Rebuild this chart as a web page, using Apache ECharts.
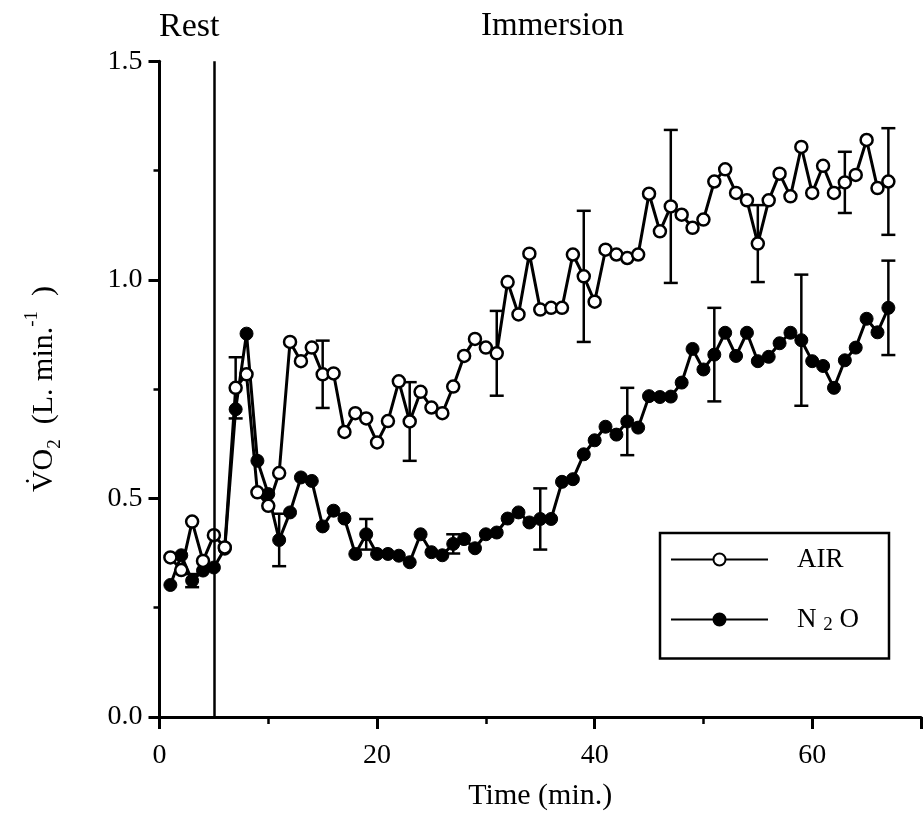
<!DOCTYPE html>
<html>
<head>
<meta charset="utf-8">
<style>
  html, body { margin: 0; padding: 0; background: #fff; }
  #chart { width: 924px; height: 816px; }
</style>
<script src="https://cdn.jsdelivr.net/npm/echarts@6/dist/echarts.min.js"></script>
</head>
<body>
<div id="chart"></div>
<script>
// Time after start of the protocol (min)
const timeMin = [1,2,3,4,5,6,7,8,9,10,11,12,13,14,15,16,17,18,19,20,
  21,22,23,24,25,26,27,28,29,30,31,32,33,34,35,36,37,38,39,40,
  41,42,43,44,45,46,47,48,49,50,51,52,53,54,55,56,57,58,59,60,
  61,62,63,64,65,66,67];

// Oxygen uptake (L/min), breathing air
const airVO2 = [0.365,0.336,0.447,0.357,0.416,0.388,0.753,0.784,0.514,0.483,
  0.558,0.858,0.814,0.845,0.784,0.786,0.652,0.695,0.683,0.628,
  0.677,0.768,0.676,0.744,0.708,0.695,0.756,0.826,0.865,0.845,
  0.832,0.995,0.921,1.060,0.932,0.936,0.936,1.058,1.008,0.950,
  1.069,1.058,1.050,1.058,1.197,1.111,1.168,1.149,1.119,1.138,
  1.225,1.253,1.199,1.182,1.083,1.182,1.243,1.191,1.304,1.199,
  1.261,1.199,1.223,1.240,1.320,1.210,1.225];

// Oxygen uptake (L/min), breathing nitrous oxide
const n2oVO2 = [0.302,0.370,0.312,0.335,0.342,0.385,0.704,0.877,0.586,0.510,
  0.405,0.468,0.548,0.540,0.436,0.472,0.454,0.373,0.418,0.373,
  0.373,0.369,0.354,0.418,0.377,0.370,0.396,0.407,0.386,0.418,
  0.422,0.454,0.468,0.445,0.453,0.453,0.538,0.544,0.601,0.633,
  0.664,0.646,0.676,0.662,0.734,0.732,0.733,0.765,0.842,0.795,
  0.829,0.879,0.826,0.879,0.814,0.824,0.855,0.879,0.862,0.814,
  0.803,0.753,0.816,0.845,0.911,0.880,0.936];

// Standard deviations shown at selected minutes
const airSdMin = [7,15,23,31,39,47,55,63,67];
const airSd    = [0.070,0.077,0.090,0.097,0.150,0.175,0.088,0.070,0.122];
const n2oSdMin = [3,11,19,27,35,43,51,59,67];
const n2oSd    = [0.015,0.060,0.035,0.022,0.070,0.077,0.107,0.150,0.108];

// End of the resting period (min)
const restEnd = 5;

const xTicks = [0, 20, 40, 60];
const yTicks = [0.0, 0.5, 1.0, 1.5];

const serif = 'Liberation Serif';

function pairs(xs, ys) { return xs.map((x, i) => [x, ys[i]]); }
function errRows(mins, sds, vals) {
  return mins.map((m, i) => {
    const v = vals[timeMin.indexOf(m)];
    return [m, v - sds[i], v + sds[i]];
  });
}

function renderErr(params, api) {
  const x = api.value(0);
  const lo = api.coord([x, api.value(1)]);
  const hi = api.coord([x, api.value(2)]);
  const cap = 7;
  const style = { stroke: '#000', lineWidth: 2.5 };
  return {
    type: 'group',
    children: [
      { type: 'line', shape: { x1: lo[0], y1: lo[1], x2: hi[0], y2: hi[1] }, style },
      { type: 'line', shape: { x1: lo[0] - cap, y1: lo[1], x2: lo[0] + cap, y2: lo[1] }, style },
      { type: 'line', shape: { x1: hi[0] - cap, y1: hi[1], x2: hi[0] + cap, y2: hi[1] }, style }
    ]
  };
}

const chart = echarts.init(document.getElementById('chart'), null, { renderer: 'canvas' });

const subRich = {
  sub: { fontSize: 19, fontFamily: serif, verticalAlign: 'bottom', lineHeight: 19 },
  sup: { fontSize: 19, fontFamily: serif, verticalAlign: 'top', lineHeight: 19 }
};

chart.setOption({
  backgroundColor: '#fff',
  animation: false,
  grid: { left: 159.5, top: 61.3, right: -7, bottom: 97.7, containLabel: false },
  xAxis: {
    type: 'value',
    min: 0, max: 70, interval: 20,
    name: 'Time (min.)',
    nameLocation: 'middle',
    nameGap: 64,
    nameTextStyle: { fontFamily: serif, fontSize: 30, color: '#000' },
    axisLine: { onZero: false, lineStyle: { color: '#000', width: 3 } },
    axisTick: { show: true, length: 12, inside: false, lineStyle: { color: '#000', width: 3 } },
    minorTick: { show: true, splitNumber: 2, length: 7, lineStyle: { color: '#000', width: 2.5 } },
    splitLine: { show: false },
    axisLabel: {
      margin: 25, color: '#000', fontFamily: serif, fontSize: 28,
      formatter: v => (xTicks.indexOf(v) >= 0 ? String(v) : '')
    }
  },
  yAxis: {
    type: 'value',
    min: 0, max: 1.5, interval: 0.5,
    axisLine: { onZero: false, lineStyle: { color: '#000', width: 3 } },
    axisTick: { show: true, length: 11, lineStyle: { color: '#000', width: 3 } },
    minorTick: { show: true, splitNumber: 2, length: 6, lineStyle: { color: '#000', width: 2.5 } },
    splitLine: { show: false },
    axisLabel: {
      margin: 17, color: '#000', fontFamily: serif, fontSize: 28,
      formatter: v => (yTicks.indexOf(v) >= 0 ? v.toFixed(1) : '')
    }
  },
  legend: {
    orient: 'vertical',
    left: 660, top: 533,
    padding: [13, 30, 24, 10],
    itemGap: 33,
    itemWidth: 97,
    itemHeight: 15,
    borderColor: '#000',
    borderWidth: 2.5,
    backgroundColor: '#fff',
    textStyle: {
      fontFamily: serif, fontSize: 27, color: '#000', padding: [0, 0, 0, 24],
      rich: { sub: { fontSize: 19, fontFamily: serif, verticalAlign: 'bottom', lineHeight: 30 } }
    },
    formatter: name => (name === 'N2O' ? 'N {sub|2} O' : name),
    data: ['AIR', 'N2O']
  },
  graphic: [
    { type: 'text', left: 159, top: 10,
      style: { text: 'Rest', fontFamily: serif, fontSize: 34, fill: '#000' } },
    { type: 'text', left: 481, top: 10,
      style: { text: 'Immersion', fontFamily: serif, fontSize: 33, fill: '#000' } },
    { type: 'text', x: 44, y: 389, rotation: Math.PI / 2,
      style: {
        text: 'V\u0307O{sub|2}  (L. min.{sup|-1}  )',
        fontFamily: serif, fontSize: 30, fill: '#000',
        align: 'center', verticalAlign: 'middle', lineHeight: 42,
        rich: subRich
      } }
  ],
  series: [
    {
      name: 'N2O',
      type: 'line',
      data: pairs(timeMin, n2oVO2),
      symbol: 'circle',
      symbolSize: 13,
      itemStyle: { color: '#000', borderColor: '#000', borderWidth: 1 },
      lineStyle: { color: '#000', width: 3 },
      z: 3,
      markLine: {
        silent: true, symbol: 'none',
        label: { show: false },
        lineStyle: { color: '#000', width: 2.5, type: 'solid' },
        data: [{ xAxis: restEnd }]
      }
    },
    {
      name: 'AIR',
      type: 'line',
      data: pairs(timeMin, airVO2),
      symbol: 'circle',
      symbolSize: 12,
      itemStyle: { color: '#fff', borderColor: '#000', borderWidth: 2.5 },
      lineStyle: { color: '#000', width: 3 },
      z: 4
    },
    {
      name: 'AIR SD',
      type: 'custom',
      renderItem: renderErr,
      data: errRows(airSdMin, airSd, airVO2),
      z: 2
    },
    {
      name: 'N2O SD',
      type: 'custom',
      renderItem: renderErr,
      data: errRows(n2oSdMin, n2oSd, n2oVO2),
      z: 2
    }
  ]
});
</script>
</body>
</html>
